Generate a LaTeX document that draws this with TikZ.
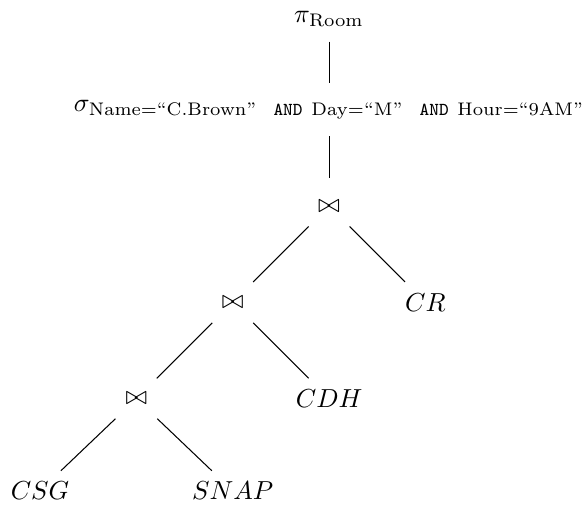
\documentclass[tikz,border=0pt]{standalone}
\usepackage{amsmath}
\usepackage{tikz}

\begin{document}
\begin{tikzpicture}[lk/.style={shorten <=.39cm,shorten >=.39cm}]
\useasboundingbox(-4.44,-4.02)rectangle(3.48,2.78);
\node(pi)at(0,2.52){$\pi_{\mathrm{Room}}$};
\node(sel)at(0,1.3){$\sigma_{\mathrm{Name}=\text{``C.Brown''}\ \ \texttt{AND}\ \mathrm{Day}=\text{``M''}\ \ \texttt{AND}\ \mathrm{Hour}=\text{``9AM''}}$};
\node(j1)at(0,0){$\bowtie$};\node(j2)at(-1.3,-1.3){$\bowtie$};\node(j3)at(-2.6,-2.6){$\bowtie$};
\node(cr)at(1.3,-1.3){$CR$};\node(cdh)at(0,-2.6){$CDH$};\node(csg)at(-3.9,-3.84){$CSG$};\node(snap)at(-1.3,-3.84){$SNAP$};
\draw[shorten <=.3cm,shorten >=.36cm](pi.center)--(sel.center);\draw[shorten <=.36cm,shorten >=.38cm](sel.center)--(j1.center);
\draw[lk](j1.center)--(j2.center);\draw[lk](j1.center)--(cr.center);
\draw[lk](j2.center)--(j3.center);\draw[lk](j2.center)--(cdh.center);
\draw[lk](j3.center)--(csg.center);\draw[lk](j3.center)--(snap.center);
\end{tikzpicture}
\end{document}
